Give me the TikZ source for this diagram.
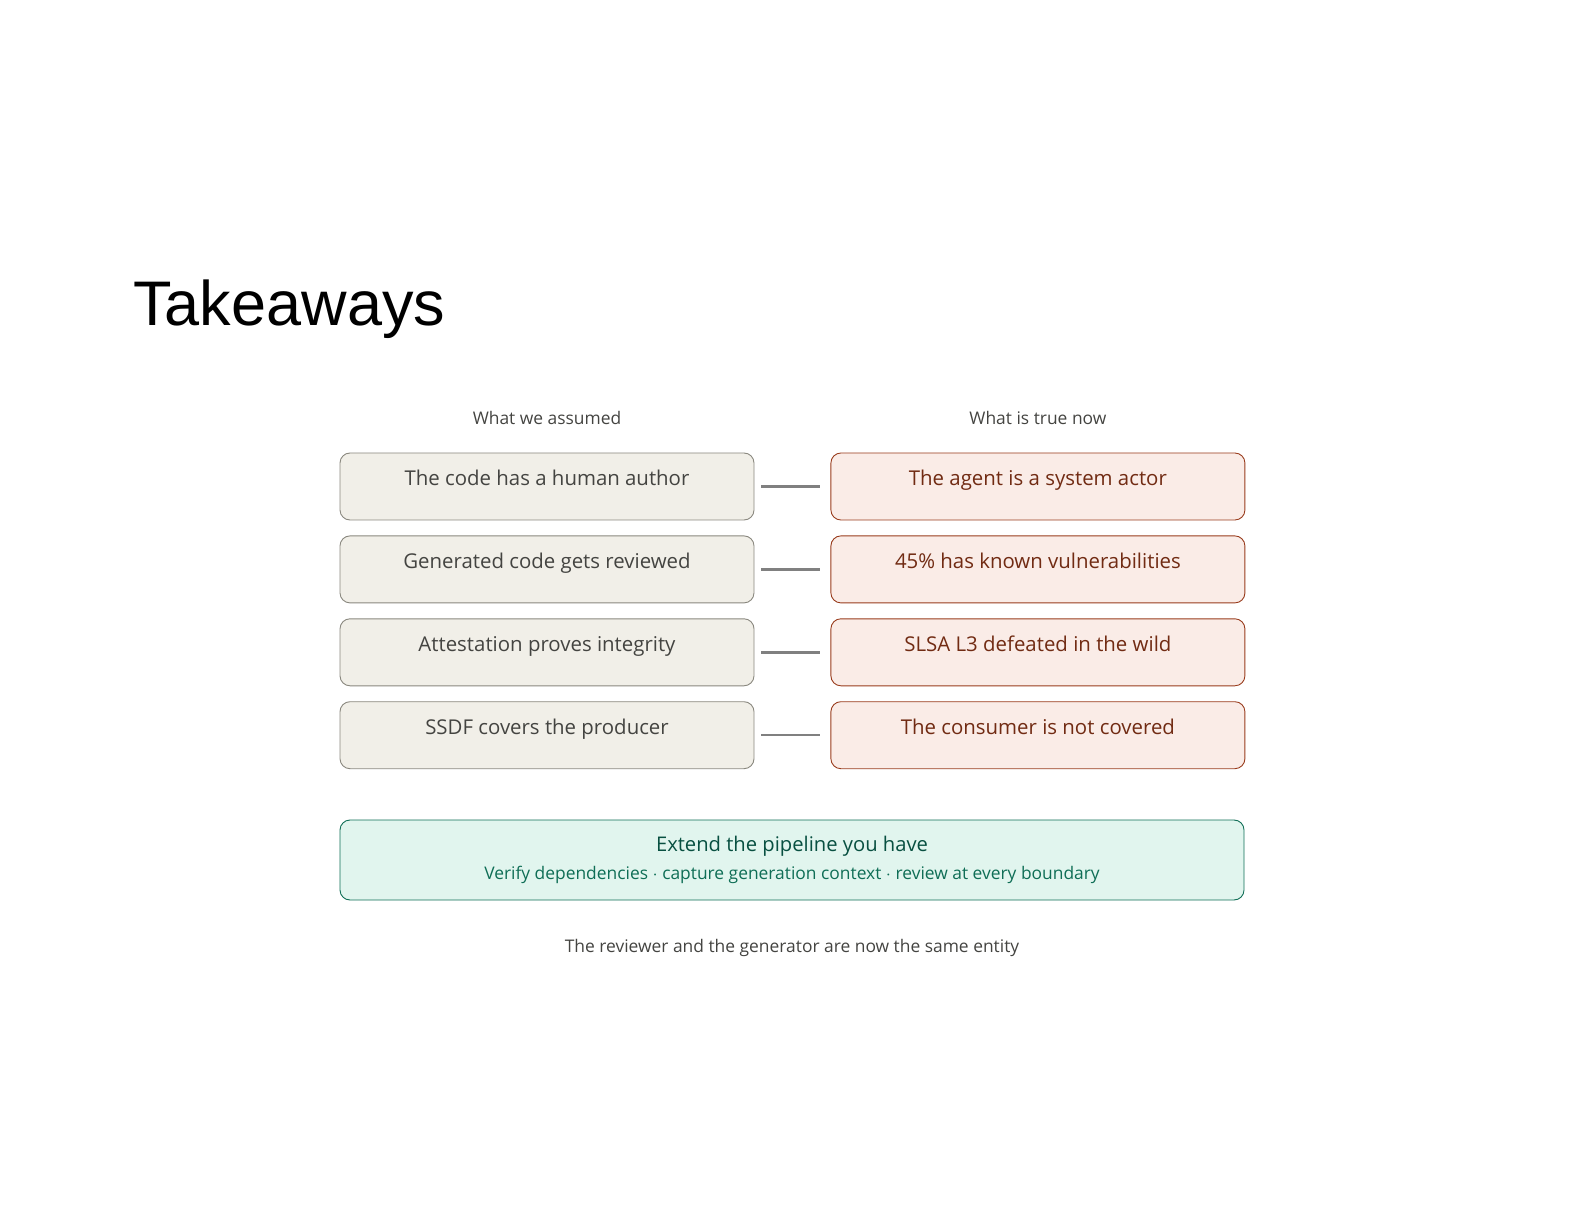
\documentclass[tikz,border=0pt]{standalone}
\usepackage{fontspec}
\setmainfont{Open Sans}
\newfontfamily\titlefont{Liberation Sans}
\usetikzlibrary{positioning}

\definecolor{grayfill}{HTML}{F1EFE8}
\definecolor{grayline}{HTML}{8A887F}
\definecolor{graytext}{HTML}{444441}
\definecolor{coralfill}{HTML}{FAECE7}
\definecolor{coralline}{HTML}{993C1D}
\definecolor{coraltext}{HTML}{712B13}
\definecolor{tealfill}{HTML}{E1F5EE}
\definecolor{tealline}{HTML}{0F6E56}
\definecolor{tealtext}{HTML}{085041}
\definecolor{linkgray}{HTML}{808080}

\tikzset{
  card/.style={rounded corners=5pt, line width=0.45pt, minimum width=207pt,
    inner xsep=0pt, inner ysep=0pt, text height=16.5pt, text depth=17pt,
    font=\fontsize{10.2}{12}\selectfont},
  assumed/.style={card, fill=grayfill, draw=grayline, text=graytext},
  truenow/.style={card, fill=coralfill, draw=coralline, text=coraltext},
  colhead/.style={font=\fontsize{8.7}{10}\selectfont, text=graytext},
  link/.style={draw=linkgray, line width=1.2pt, shorten <=3.5pt, shorten >=5pt},
}

\begin{document}
\begin{tikzpicture}[x=0.5pt, y=-0.5pt, node distance=7.5pt]
	\useasboundingbox (0,0) rectangle (1584,1224);

	\node[anchor=base west, inner sep=0pt, font=\titlefont\fontsize{31.5}{34}\selectfont] (title) at (133,326) {Takeaways};

	\node[assumed] (a1) at (547,486.5) {The code has a human author};
	\node[assumed] (a2) [below=of a1] {Generated code gets reviewed};
	\node[assumed] (a3) [below=of a2] {Attestation proves integrity};
	\node[assumed] (a4) [below=of a3] {SSDF covers the producer};

	\node[truenow] (t1) [right=38pt of a1] {The agent is a system actor};
	\node[truenow] (t2) [right=38pt of a2] {45\% has known vulnerabilities};
	\node[truenow] (t3) [right=38pt of a3] {SLSA L3 defeated in the wild};
	\node[truenow] (t4) [right=38pt of a4] {The consumer is not covered};

	\node[colhead] (hassumed) [above=10.5pt of a1] {What we assumed};
	\node[colhead] (htrue) [above=10.5pt of t1] {What is true now};

	\foreach \i in {1,...,4}
		\draw[link] (a\i) -- (t\i);

	\node[rounded corners=5pt, line width=0.45pt, fill=tealfill, draw=tealline,
		minimum width=452pt, minimum height=40pt, align=center, inner ysep=0pt] (extend) at (792,860)
		{\textcolor{tealtext}{\fontsize{10.1}{12}\selectfont Extend the pipeline you have}\\[2pt]
		 \textcolor{tealline}{\fontsize{8.7}{10}\selectfont Verify dependencies $\cdot$ capture generation context $\cdot$ review at every boundary}};

	\node[font=\fontsize{8.7}{10}\selectfont, text=graytext] (footer) [below=16pt of extend] {The reviewer and the generator are now the same entity};
\end{tikzpicture}
\end{document}
